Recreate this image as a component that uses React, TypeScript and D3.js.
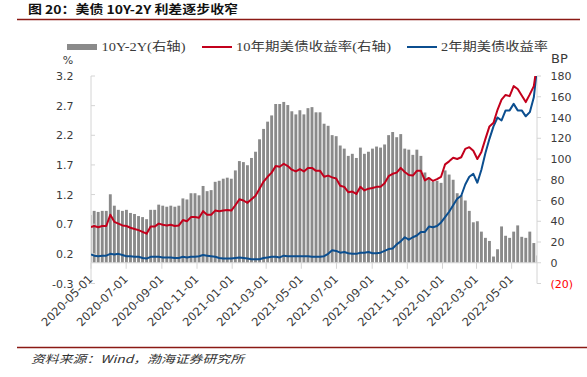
import React from 'react';
import * as d3 from 'd3';

const TITLE = '图 20：美债 10Y-2Y 利差逐步收窄';
const SOURCE = '资料来源：Wind，渤海证券研究所';
const LEGEND_LABELS = ['10Y-2Y(右轴)', '10年期美债收益率(右轴)', '2年期美债收益率'];

// weekly observations, week starting Monday 2020-04-27
const FIRST_WEEK = '2020-04-27';

const yield10Y = [
  0.65, 0.67, 0.65, 0.67, 0.67, 0.86, 0.74, 0.71, 0.68, 0.67,
  0.64, 0.62, 0.60, 0.57, 0.54, 0.66, 0.66, 0.71, 0.69, 0.68,
  0.69, 0.67, 0.68, 0.77, 0.75, 0.82, 0.82, 0.81, 0.92, 0.86,
  0.86, 0.93, 0.92, 0.93, 0.94, 0.93, 1.02, 1.12, 1.10, 1.06,
  1.12, 1.18, 1.30, 1.42, 1.50, 1.57, 1.68, 1.67, 1.72, 1.68,
  1.62, 1.59, 1.63, 1.59, 1.65, 1.65, 1.60, 1.60, 1.50, 1.52,
  1.49, 1.47, 1.35, 1.33, 1.24, 1.25, 1.21, 1.33, 1.27, 1.30,
  1.31, 1.33, 1.33, 1.39, 1.51, 1.55, 1.57, 1.65, 1.58, 1.53,
  1.52, 1.60, 1.60, 1.44, 1.48, 1.43, 1.46, 1.50, 1.71, 1.76,
  1.82, 1.80, 1.83, 1.97, 2.00, 1.94, 1.80, 1.92, 2.14, 2.35,
  2.41, 2.63, 2.80, 2.88, 2.86, 3.03, 2.98, 2.87, 2.76, 2.89,
  3.03, 3.40,
];

const yield2Y = [
  0.19, 0.17, 0.16, 0.17, 0.17, 0.20, 0.19, 0.20, 0.18, 0.16,
  0.16, 0.15, 0.15, 0.13, 0.12, 0.15, 0.15, 0.15, 0.14, 0.14,
  0.14, 0.13, 0.13, 0.15, 0.14, 0.15, 0.15, 0.16, 0.18, 0.17,
  0.16, 0.15, 0.13, 0.12, 0.12, 0.12, 0.13, 0.14, 0.13, 0.12,
  0.11, 0.11, 0.11, 0.13, 0.14, 0.15, 0.15, 0.14, 0.17, 0.16,
  0.16, 0.16, 0.16, 0.16, 0.16, 0.15, 0.15, 0.15, 0.16, 0.20,
  0.26, 0.25, 0.22, 0.23, 0.21, 0.20, 0.20, 0.22, 0.22, 0.23,
  0.21, 0.21, 0.22, 0.25, 0.28, 0.29, 0.36, 0.41, 0.48, 0.44,
  0.48, 0.51, 0.57, 0.57, 0.66, 0.65, 0.67, 0.73, 0.82, 0.91,
  1.02, 1.13, 1.18, 1.37, 1.50, 1.55, 1.40, 1.62, 1.90, 2.14,
  2.35, 2.50, 2.45, 2.62, 2.62, 2.73, 2.62, 2.62, 2.52, 2.59,
  2.84, 3.33,
];

const spreadBP = [
  46, 50, 49, 50, 50, 66, 55, 51, 50, 51,
  48, 47, 45, 44, 42, 51, 51, 56, 55, 54,
  55, 54, 55, 62, 61, 67, 67, 65, 74, 69,
  70, 78, 79, 81, 82, 81, 89, 98, 97, 94,
  101, 107, 119, 129, 136, 142, 153, 153, 155, 152,
  146, 143, 147, 143, 149, 150, 145, 145, 134, 132,
  123, 122, 113, 110, 103, 105, 101, 111, 105, 107,
  110, 112, 111, 114, 123, 126, 121, 124, 110, 109,
  104, 109, 103, 87, 82, 78, 79, 77, 89, 85,
  80, 67, 65, 60, 50, 39, 40, 30, 24, 21,
  6, 13, 35, 26, 24, 30, 36, 25, 24, 30,
  19, 7,
];

const leftTicks = [-0.3, 0.2, 0.7, 1.2, 1.7, 2.2, 2.7, 3.2];
const rightTicks = [-20, 0, 20, 40, 60, 80, 100, 120, 140, 160, 180];
const xTickDates = [
  '2020-05-01', '2020-07-01', '2020-09-01', '2020-11-01', '2021-01-01',
  '2021-03-01', '2021-05-01', '2021-07-01', '2021-09-01', '2021-11-01',
  '2022-01-01', '2022-03-01', '2022-05-01',
];
const X_START = '2020-05-01';
const X_END = '2022-06-14';

const W = 587;
const H = 377;
const PL = 91;
const PR = 537;
const PT = 76;
const PB = 283.5;

const GRAY = '#8a8a8a';
const RED = '#C3001C';
const BLUE = '#0B4E8F';
const AXIS = '#D4D4D4';
const TXT = '#3a3a3a';
const RULE = '#8B1A14';

const parse = d3.timeParse('%Y-%m-%d');
const fmt = d3.timeFormat('%Y-%m-%d');

export default function App() {
  const x0 = parse(X_START) as Date;
  const x1 = parse(X_END) as Date;
  const x = d3.scaleTime().domain([x0, x1]).range([PL, PR]);
  const yL = d3.scaleLinear().domain([-0.3, 3.2]).range([PB, PT]);
  const yR = d3.scaleLinear().domain([-20, 180]).range([PB, PT]);
  const first = parse(FIRST_WEEK) as Date;
  const weeks = spreadBP.map((_, i) => d3.timeDay.offset(first, 7 * i));
  const clampX = (v: number) => Math.max(PL, Math.min(PR, v));
  const midX = (d: Date) => clampX(x(d3.timeHour.offset(d, 60)));

  const line10 = d3
    .line<number>()
    .x((_, i) => midX(weeks[i]))
    .y((v) => yL(v));
  const line2 = d3
    .line<number>()
    .x((_, i) => midX(weeks[i]))
    .y((v) => yL(v));

  const base = yR(0);
  const sans = 'DejaVu Sans, Verdana, sans-serif';
  const legendFont = 'Liberation Serif, Noto Sans CJK SC, serif';

  return (
    <svg
      width={W}
      height={H}
      style={{ position: 'absolute', left: 0, top: 0, background: '#fff' }}
    >
      <defs>
        <clipPath id="plot">
          <rect x={PL} y={PT} width={PR - PL} height={PB - PT} />
        </clipPath>
      </defs>
      {/* title */}
      <text
        x={28}
        y={13.5}
        fontFamily="Noto Sans CJK SC, sans-serif"
        fontWeight="bold"
        fontSize={12}
        fill="#111"
        textLength={210}
        lengthAdjust="spacingAndGlyphs"
      >
        {TITLE}
      </text>
      <line x1={17} x2={580} y1={19.5} y2={19.5} stroke={RULE} strokeWidth={1.6} />

      {/* legend */}
      <rect x={67} y={44} width={30} height={6} fill={GRAY} />
      <text x={101.5} y={51} fontFamily={legendFont} fontSize={12} fill={TXT} textLength={84} lengthAdjust="spacingAndGlyphs">
        {LEGEND_LABELS[0]}
      </text>
      <line x1={202} x2={232} y1={47} y2={47} stroke={RED} strokeWidth={2} />
      <text x={236} y={51} fontFamily={legendFont} fontSize={12} fill={TXT} textLength={155} lengthAdjust="spacingAndGlyphs">
        {LEGEND_LABELS[1]}
      </text>
      <line x1={407} x2={437} y1={47} y2={47} stroke={BLUE} strokeWidth={2} />
      <text x={441} y={51} fontFamily={legendFont} fontSize={12} fill={TXT} textLength={107} lengthAdjust="spacingAndGlyphs">
        {LEGEND_LABELS[2]}
      </text>

      {/* unit labels */}
      <text x={68} y={64} textAnchor="middle" fontFamily={sans} fontSize={11} fill={TXT}>%</text>
      <text x={551} y={63} fontFamily={sans} fontSize={13} fill={TXT}>BP</text>

      {/* bars */}
      <g clipPath="url(#plot)">
        {spreadBP.map((v, i) => {
          const a = clampX(x(weeks[i]));
          const b = clampX(x(d3.timeDay.offset(weeks[i], 5)));
          if (b <= a) return null;
          const yv = yR(v);
          return (
            <rect
              key={i}
              x={a}
              y={Math.min(yv, base)}
              width={b - a}
              height={Math.abs(base - yv)}
              fill={GRAY}
            />
          );
        })}
      </g>

      {/* axes */}
      <line x1={PL} x2={PL} y1={PT} y2={PB} stroke={AXIS} strokeWidth={1} />
      <line x1={PR} x2={PR} y1={PT} y2={PB} stroke={AXIS} strokeWidth={1} />
      <line x1={PL} x2={PR} y1={base} y2={base} stroke={AXIS} strokeWidth={1} />
      {leftTicks.map((t) => (
        <g key={'l' + t}>
          <line x1={PL} x2={PL + 4} y1={yL(t)} y2={yL(t)} stroke={AXIS} />
          <text x={73.5} y={yL(t) + 4} textAnchor="end" fontFamily={sans} fontSize={11} fill={TXT}>
            {t.toFixed(1)}
          </text>
        </g>
      ))}
      {rightTicks.map((t) => (
        <g key={'r' + t}>
          <line x1={PR} x2={PR + 4} y1={yR(t)} y2={yR(t)} stroke={AXIS} />
          <text
            x={550.5}
            y={yR(t) + 4}
            fontFamily={sans}
            fontSize={11}
            fill={t < 0 ? '#FF0000' : TXT}
          >
            {t < 0 ? `(${Math.abs(t)})` : t}
          </text>
        </g>
      ))}
      {xTickDates.map((s) => {
        const d = parse(s) as Date;
        const xv = x(d);
        return (
          <g key={s}>
            <line x1={xv} x2={xv} y1={base} y2={base + 6} stroke={AXIS} />
            <text
              transform={`translate(${xv + 2.5},${base + 17}) rotate(-45)`}
              textAnchor="end"
              fontFamily={sans}
              fontSize={11.5}
              fill={TXT}
            >
              {fmt(d)}
            </text>
          </g>
        );
      })}

      {/* lines */}
      <g clipPath="url(#plot)">
        <path d={line2(yield2Y) || ''} fill="none" stroke={BLUE} strokeWidth={2} strokeLinejoin="round" />
        <path d={line10(yield10Y) || ''} fill="none" stroke={RED} strokeWidth={2} strokeLinejoin="round" />
      </g>

      {/* footer */}
      <line x1={17} x2={587} y1={347.5} y2={347.5} stroke={RULE} strokeWidth={1.6} />
      <text
        x={31}
        y={363}
        fontFamily="Noto Sans CJK SC, sans-serif"
        fontStyle="italic"
        fontSize={11}
        fill="#333"
        textLength={213}
        lengthAdjust="spacingAndGlyphs"
      >
        {SOURCE}
      </text>
    </svg>
  );
}
